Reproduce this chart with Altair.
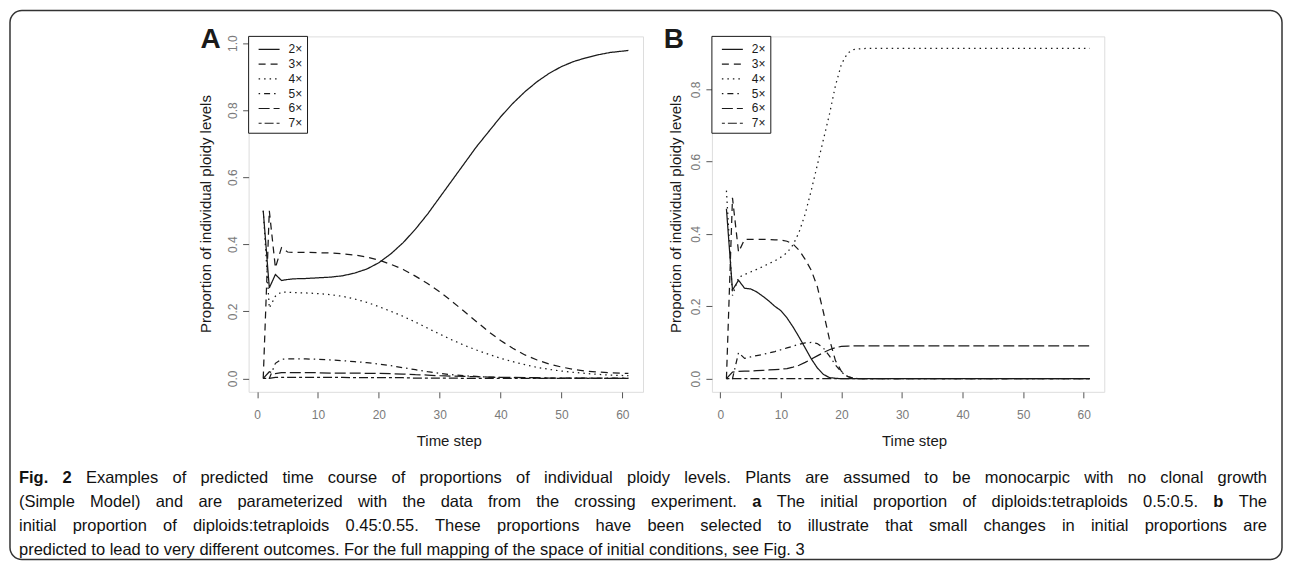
import altair as alt
import pandas as pd

# ---------------- data ----------------
PLOIDY = ["2×", "3×", "4×", "5×", "6×", "7×"]

TIME_A = [1, 2, 3, 4, 5, 6, 8, 10, 12, 14, 16, 18, 20, 22, 24, 26, 28, 30, 32, 34,
          36, 38, 40, 42, 44, 46, 48, 50, 52, 54, 56, 58, 61]
A_2X = [0.50, 0.27, 0.31, 0.292, 0.295, 0.297, 0.298, 0.300, 0.302, 0.306, 0.314, 0.326,
        0.345, 0.372, 0.405, 0.445, 0.49, 0.54, 0.59, 0.64, 0.69, 0.735, 0.78, 0.82,
        0.855, 0.885, 0.91, 0.93, 0.945, 0.956, 0.965, 0.972, 0.978]
A_3X = [0.0, 0.5, 0.33, 0.39, 0.377, 0.376, 0.376, 0.375, 0.374, 0.372, 0.368, 0.362,
        0.353, 0.34, 0.325, 0.305, 0.283, 0.258, 0.23, 0.2, 0.17, 0.14, 0.113, 0.09,
        0.07, 0.055, 0.043, 0.034, 0.027, 0.022, 0.019, 0.017, 0.015]
A_4X = [0.5, 0.21, 0.245, 0.258, 0.257, 0.256, 0.255, 0.253, 0.25, 0.245, 0.237, 0.227,
        0.214, 0.2, 0.185, 0.168, 0.15, 0.132, 0.115, 0.099, 0.085, 0.072, 0.06, 0.05,
        0.041, 0.033, 0.027, 0.022, 0.018, 0.015, 0.012, 0.01, 0.008]
A_5X = [0.0, 0.0, 0.045, 0.057, 0.058, 0.058, 0.058, 0.057, 0.055, 0.053, 0.05, 0.047,
        0.043, 0.038, 0.032, 0.026, 0.02, 0.015, 0.011, 0.008, 0.006, 0.004, 0.003, 0.002,
        0.002, 0.001, 0.001, 0.001, 0.001, 0.001, 0.001, 0.001, 0.001]
A_6X = [0.0, 0.02, 0.014, 0.017, 0.017, 0.017, 0.017, 0.017, 0.016, 0.016, 0.016, 0.015,
        0.015, 0.014, 0.013, 0.011, 0.01, 0.008, 0.007, 0.006, 0.005, 0.004, 0.003, 0.003,
        0.002, 0.002, 0.001, 0.001, 0.001, 0.001, 0.0, 0.0, 0.0]
A_7X = [0.0, 0.0, 0.003, 0.003, 0.003, 0.003, 0.003, 0.003, 0.003, 0.003, 0.002, 0.002,
        0.002, 0.002, 0.002, 0.001, 0.001, 0.001, 0.001, 0.0, 0.0, 0.0, 0.0, 0.0,
        0.0, 0.0, 0.0, 0.0, 0.0, 0.0, 0.0, 0.0, 0.0]

TIME_B = [1, 2, 3, 4, 5, 6, 7, 8, 9, 10, 11, 12, 13, 14, 15, 16, 17, 18, 19, 20,
          21, 22, 23, 24, 26, 30, 35, 40, 45, 50, 55, 61]
B_2X = [0.47, 0.245, 0.272, 0.25, 0.248, 0.24, 0.228, 0.215, 0.2, 0.188, 0.168, 0.143,
        0.115, 0.085, 0.055, 0.03, 0.012, 0.003, 0.001, 0.0, 0.0, 0.0, 0.0, 0.0,
        0.0, 0.0, 0.0, 0.0, 0.0, 0.0, 0.0, 0.0]
B_3X = [0.0, 0.5, 0.35, 0.385, 0.385, 0.385, 0.385, 0.385, 0.384, 0.383, 0.38, 0.372,
        0.355, 0.33, 0.3, 0.255, 0.185, 0.11, 0.05, 0.02, 0.006, 0.001, 0.0, 0.0,
        0.0, 0.0, 0.0, 0.0, 0.0, 0.0, 0.0, 0.0]
B_4X = [0.52, 0.23, 0.28, 0.288, 0.295, 0.302, 0.31, 0.318, 0.326, 0.336, 0.348, 0.37,
        0.405, 0.455, 0.52, 0.59, 0.66, 0.73, 0.81, 0.87, 0.9, 0.91, 0.912, 0.913,
        0.913, 0.913, 0.913, 0.913, 0.913, 0.913, 0.913, 0.913]
B_5X = [0.0, 0.0, 0.072, 0.056, 0.06, 0.064, 0.067, 0.071, 0.075, 0.08, 0.085, 0.09,
        0.095, 0.099, 0.1, 0.097, 0.085, 0.063, 0.038, 0.018, 0.006, 0.001, 0.0, 0.0,
        0.0, 0.0, 0.0, 0.0, 0.0, 0.0, 0.0, 0.0]
B_6X = [0.0, 0.018, 0.02, 0.021, 0.021, 0.022, 0.023, 0.024, 0.025, 0.026, 0.028, 0.032,
        0.037, 0.045, 0.054, 0.063, 0.072, 0.08, 0.086, 0.089, 0.09, 0.091, 0.091, 0.091,
        0.091, 0.091, 0.091, 0.091, 0.091, 0.091, 0.091, 0.091]
B_7X = [0.0] * 32

X_TICKS = [0, 10, 20, 30, 40, 50, 60]
Y_TICKS_A = [0.0, 0.2, 0.4, 0.6, 0.8, 1.0]
Y_TICKS_B = [0.0, 0.2, 0.4, 0.6, 0.8]

PANEL_LABELS = ["A", "B"]
X_TITLE = "Time step"
Y_TITLE = "Proportion of individual ploidy levels"

# caption: each line is a list of (text, bold) segments; the last line is not justified
CAPTION_LINES = [
    [("Fig. 2", True),
     ("Examples of predicted time course of proportions of individual ploidy levels. Plants are assumed to be monocarpic with no clonal growth", False)],
    [("(Simple Model) and are parameterized with the data from the crossing experiment.", False),
     ("a", True), ("The initial proportion of diploids:tetraploids 0.5:0.5.", False),
     ("b", True), ("The", False)],
    [("initial proportion of diploids:tetraploids 0.45:0.55. These proportions have been selected to illustrate that small changes in initial proportions are", False)],
    [("predicted to lead to very different outcomes. For the full mapping of the space of initial conditions, see Fig. 3", False)],
]
CAPTION_JUSTIFY = [True, True, True, False]

# ---------------- helpers ----------------
FONT = "Liberation Sans, Arial, sans-serif"
INK = "#1a1a1a"
DASHES = [[1, 0], [7, 5], [1.5, 4], [1.5, 4, 6, 4], [11, 4], [3, 3, 9, 3]]
dash_scale = alt.Scale(domain=PLOIDY, range=DASHES)

# Arial / Liberation Sans advance widths (per 1000 em) for text layout
_W = {" ": 278, "!": 278, "(": 333, ")": 333, ",": 278, "-": 333, ".": 278, "/": 278,
      ":": 278, ";": 278}
for _c in "0123456789":
    _W[_c] = 556
_W.update(dict(zip("ABCDEFGHIJKLMNOPQRSTUVWXYZ",
                   [667, 667, 722, 722, 667, 611, 778, 722, 278, 500, 667, 556, 833, 722, 778,
                    667, 778, 722, 667, 611, 722, 667, 944, 667, 667, 611])))
_W.update(dict(zip("abcdefghijklmnopqrstuvwxyz",
                   [556, 556, 500, 556, 556, 278, 556, 556, 222, 222, 500, 222, 833, 556, 556,
                    556, 556, 333, 500, 278, 556, 500, 722, 500, 500, 500])))
_WB = dict(_W)
_WB.update({"F": 611, "i": 278, "g": 611, "a": 556, "b": 611, "2": 556, ".": 278})


def text_width(s, size, bold=False):
    tbl = _WB if bold else _W
    return sum(tbl.get(c, 556) for c in s) * size / 1000.0


def to_long(times, series):
    rows = []
    for p, vals in zip(PLOIDY, series):
        for t, v in zip(times, vals):
            rows.append({"t": t, "v": v, "ploidy": p})
    return pd.DataFrame(rows)


one = pd.DataFrame({"k": [0]})
leg_df = pd.DataFrame({"ploidy": PLOIDY})


def text_at(x, y, txt, size=15, weight="normal", align="center", baseline="middle", angle=0,
            color=INK, font=FONT):
    kw = dict(align=align, baseline=baseline, fontSize=size, fontWeight=weight,
              color=color, font=font)
    if angle:
        kw["angle"] = angle
    return alt.Chart(one).mark_text(**kw).encode(
        x=alt.value(x), y=alt.value(y), text=alt.value(txt))


def panel(df, ydom, yticks, width, label, ytitle_x, xtitle_x, extras=()):
    xaxis = alt.Axis(values=X_TICKS, domain=False, grid=False, tickSize=6, tickColor="#555",
                     labelColor="#7a7a7a", labelFont=FONT, labelFontSize=12, labelPadding=12,
                     labelFlush=False, title=None)
    yaxis = alt.Axis(values=yticks, format=".1f", domain=False, grid=False, tickSize=6,
                     tickColor="#555", labelColor="#7a7a7a", labelFont=FONT, labelFontSize=12,
                     labelAngle=270, labelAlign="center", labelBaseline="bottom",
                     labelPadding=3, labelFlush=False, title=None)
    lines = alt.Chart(df).mark_line(color=INK, strokeWidth=1.25).encode(
        x=alt.X("t:Q", scale=alt.Scale(domain=[-1.4, 63.4], nice=False, zero=False), axis=xaxis),
        y=alt.Y("v:Q", scale=alt.Scale(domain=ydom, nice=False, zero=False), axis=yaxis),
        strokeDash=alt.StrokeDash("ploidy:N", scale=dash_scale, legend=None),
    )
    leg_y = alt.Y("ploidy:N", scale=alt.Scale(type="point", domain=PLOIDY, range=[13, 87],
                                               padding=0), axis=None)
    leg_box = alt.Chart(one).mark_rect(fill="white", stroke=INK, strokeWidth=1).encode(
        x=alt.value(0), x2=alt.value(59), y=alt.value(0), y2=alt.value(97))
    leg_rules = alt.Chart(leg_df).mark_rule(color=INK, strokeWidth=1.2).encode(
        x=alt.value(10), x2=alt.value(31), y=leg_y,
        strokeDash=alt.StrokeDash("ploidy:N", scale=dash_scale, legend=None))
    leg_text = alt.Chart(leg_df).mark_text(align="left", baseline="middle", fontSize=12,
                                           font=FONT, color=INK).encode(
        x=alt.value(40), y=leg_y, text="ploidy:N")
    layers = [lines, leg_box, leg_rules, leg_text,
              text_at(ytitle_x, 178, Y_TITLE, size=15, angle=270),
              text_at(xtitle_x, 405, X_TITLE, size=15),
              text_at(-38, 12, label, size=28, weight="bold", baseline="alphabetic")]
    layers += list(extras)
    return alt.layer(*layers).resolve_scale(y="independent").properties(width=width, height=356)


df_a = to_long(TIME_A, [A_2X, A_3X, A_4X, A_5X, A_6X, A_7X])
df_b = to_long(TIME_B, [B_2X, B_3X, B_4X, B_5X, B_6X, B_7X])

# ---- caption word layout (justified, relative to panel A's plot area) ----
CAP = 16.5
CAP_LEFT, CAP_RIGHT = 18 - 248, 1268 - 248
CAP_Y0, CAP_DY = 477 - 35, 24.2
word_rows = []
for li, (segs, just) in enumerate(zip(CAPTION_LINES, CAPTION_JUSTIFY)):
    words = []
    for s, b in segs:
        for w in s.split(" "):
            words.append((w, b))
    widths = [text_width(w, CAP, b) for w, b in words]
    if just and len(words) > 1:
        gap = (CAP_RIGHT - CAP_LEFT - sum(widths)) / (len(words) - 1)
    else:
        gap = text_width(" ", CAP)
    x = CAP_LEFT
    for (w, b), wd in zip(words, widths):
        word_rows.append({"word": w, "px": x, "py": CAP_Y0 + li * CAP_DY, "bold": b})
        x += wd + gap
words_df = pd.DataFrame(word_rows)


def caption_layer(bold):
    return alt.Chart(words_df[words_df["bold"] == bold]).mark_text(
        align="left", baseline="middle", fontSize=CAP, font=FONT, color="#111",
        fontWeight="bold" if bold else "normal").encode(
        x=alt.X("px:Q", scale=None, axis=None), y=alt.Y("py:Q", scale=None, axis=None),
        text="word:N")


frame = alt.Chart(one).mark_rect(fillOpacity=0, stroke="#333", strokeWidth=1.5,
                                 cornerRadius=12).encode(
    x=alt.value(-239), x2=alt.value(1035), y=alt.value(-26), y2=alt.value(524))

panel_a = panel(df_a, [-0.04, 1.02], Y_TICKS_A, 395, PANEL_LABELS[0], -43, 201,
                extras=[frame, caption_layer(False), caption_layer(True)])
panel_b = panel(df_b, [-0.0364, 0.9464], Y_TICKS_B, 393, PANEL_LABELS[1], -36, 203)

chart = alt.hconcat(panel_a, panel_b, spacing=69, bounds="flush", padding=0).configure_view(
    stroke=INK, strokeWidth=1.2).configure(background="white")

chart.save("out.html", embed_options={"renderer": "svg", "actions": False})
